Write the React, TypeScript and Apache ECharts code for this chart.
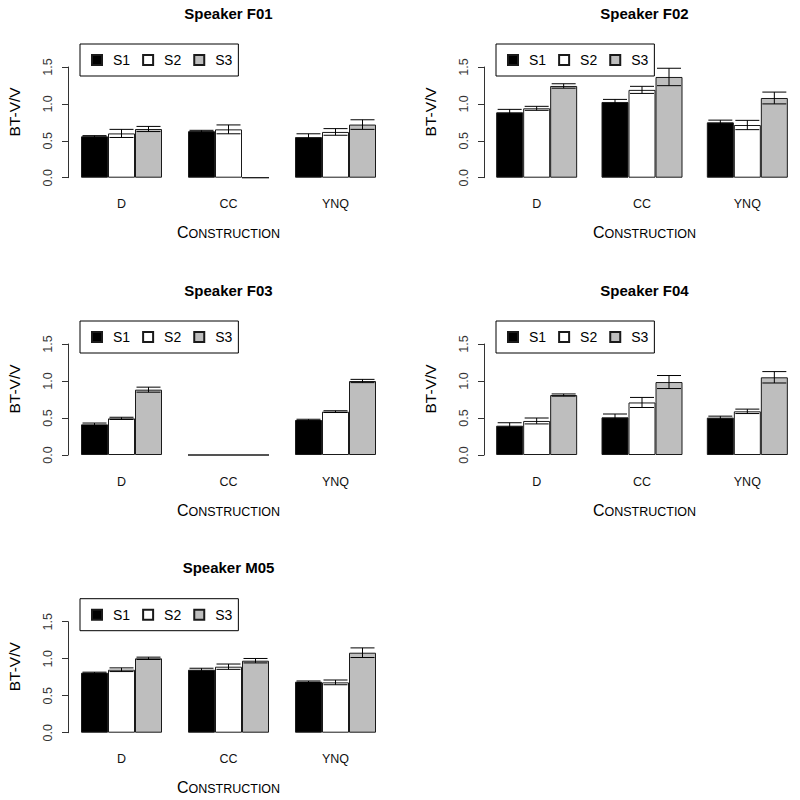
import React, { useEffect, useRef } from "react";
import * as echarts from "echarts";

// ---- data ----
const speakers = ["F01", "F02", "F03", "F04", "M05"];
const constructions = ["D", "CC", "YNQ"];
const sessions = ["S1", "S2", "S3"];
const yTicks = [0, 0.5, 1.0, 1.5];

// rows: S1, S2, S3 ; columns: D, CC, YNQ
const f01Mean = [[0.56, 0.63, 0.55], [0.6, 0.655, 0.62], [0.66, 0, 0.72]];
const f01Se = [[0.01, 0.012, 0.045], [0.055, 0.06, 0.045], [0.035, 0, 0.065]];
const f02Mean = [[0.886, 1.026, 0.75], [0.94, 1.19, 0.714], [1.243, 1.365, 1.08]];
const f02Se = [[0.04, 0.035, 0.03], [0.027, 0.048, 0.063], [0.03, 0.118, 0.08]];
const f03Mean = [[0.414, 0, 0.473], [0.495, 0, 0.586], [0.883, 0, 1.0]];
const f03Se = [[0.018, 0, 0.01], [0.015, 0, 0.012], [0.034, 0, 0.022]];
const f04Mean = [[0.396, 0.509, 0.505], [0.46, 0.71, 0.59], [0.81, 0.986, 1.05]];
const f04Se = [[0.04, 0.045, 0.02], [0.04, 0.068, 0.03], [0.015, 0.088, 0.077]];
const m05Mean = [[0.81, 0.851, 0.689], [0.851, 0.892, 0.68], [1.005, 0.973, 1.081]];
const m05Se = [[0.008, 0.02, 0.01], [0.025, 0.036, 0.032], [0.016, 0.03, 0.065]];

const means = [f01Mean, f02Mean, f03Mean, f04Mean, m05Mean];
const ses = [f01Se, f02Se, f03Se, f04Se, m05Se];

// ---- layout / style ----
const FONT = "Liberation Sans, Arial, Helvetica, sans-serif";
const sessionColors = ["#000000", "#ffffff", "#bebebe"];
const BAR_W = 27;
const CAP_HALF = 12;
const GRID_W = 321;
const panels = [
  { x: 68, top: 67, bottom: 177.7 },
  { x: 484, top: 67, bottom: 177.7 },
  { x: 68, top: 344, bottom: 455 },
  { x: 484, top: 344, bottom: 455 },
  { x: 68, top: 621.7, bottom: 732.7 },
];

function buildOption() {
  const grid = panels.map((p) => ({
    left: p.x,
    top: p.top,
    width: GRID_W,
    height: p.bottom - p.top,
  }));
  const xAxis = panels.map((p, i) => ({
    type: "category",
    gridIndex: i,
    data: constructions,
    axisLine: { show: false },
    axisTick: { show: false },
    axisLabel: { fontSize: 12.5, color: "#111", margin: 20, fontFamily: FONT },
  }));
  const yAxis = panels.map((p, i) => ({
    type: "value",
    gridIndex: i,
    min: yTicks[0],
    max: yTicks[yTicks.length - 1],
    interval: 0.5,
    splitLine: { show: false },
    axisLine: { show: true, lineStyle: { color: "#333", width: 1 } },
    axisTick: { show: true, length: 6, lineStyle: { color: "#333", width: 1 } },
    axisLabel: {
      rotate: 90,
      fontSize: 12.5,
      margin: 14,
      color: "#333",
      fontFamily: FONT,
      formatter: (v: number) => v.toFixed(1),
    },
  }));

  const series: any[] = [];
  panels.forEach((p, i) => {
    sessions.forEach((s, si) => {
      series.push({
        type: "bar",
        name: s,
        xAxisIndex: i,
        yAxisIndex: i,
        data: means[i][si],
        barWidth: BAR_W,
        barGap: "0%",
        silent: true,
        itemStyle: {
          color: sessionColors[si],
          borderColor: "#1a1a1a",
          borderWidth: 1,
        },
      });
    });
    const errData: number[][] = [];
    sessions.forEach((s, si) => {
      constructions.forEach((c, ci) => {
        const m = means[i][si][ci];
        const e = ses[i][si][ci];
        if (e > 0) errData.push([ci, si, m - e, m + e]);
      });
    });
    series.push({
      type: "custom",
      name: "err" + i,
      xAxisIndex: i,
      yAxisIndex: i,
      clip: false,
      silent: true,
      z: 5,
      encode: { x: 0, y: [2, 3] },
      data: errData,
      renderItem: (params: any, api: any) => {
        const ci = api.value(0);
        const si = api.value(1);
        const lo = api.coord([ci, api.value(2)]);
        const hi = api.coord([ci, api.value(3)]);
        const x = lo[0] + (si - 1) * BAR_W;
        const st = { stroke: "#000", lineWidth: 1 };
        return {
          type: "group",
          children: [
            { type: "line", shape: { x1: x, y1: lo[1], x2: x, y2: hi[1] }, style: st },
            { type: "line", shape: { x1: x - CAP_HALF, y1: lo[1], x2: x + CAP_HALF, y2: lo[1] }, style: st },
            { type: "line", shape: { x1: x - CAP_HALF, y1: hi[1], x2: x + CAP_HALF, y2: hi[1] }, style: st },
          ],
        };
      },
    });
  });

  const legend = panels.map((p) => ({
    left: p.x + 12,
    top: p.top - 23,
    orient: "horizontal",
    data: sessions.map((s) => ({ name: s, icon: "rect" })),
    itemWidth: 10,
    itemHeight: 10,
    itemGap: 12,
    padding: [9, 6, 9, 11],
    borderColor: "#000",
    borderWidth: 1,
    selectedMode: false,
    textStyle: { fontSize: 14, color: "#000", fontFamily: FONT, padding: [0, 0, 0, 6] },
  }));

  const graphic: any[] = [];
  panels.forEach((p, i) => {
    const cx = p.x + GRID_W / 2;
    graphic.push({
      type: "text",
      x: cx,
      y: p.top - 54,
      style: {
        text: "Speaker " + speakers[i],
        font: "bold 15px " + FONT,
        fill: "#000",
        align: "center",
        verticalAlign: "middle",
      },
    });
    graphic.push({
      type: "text",
      x: p.x - 54,
      y: (p.top + p.bottom) / 2 - 10.5,
      rotation: Math.PI / 2,
      style: {
        text: "BT-V/V",
        font: "15.5px " + FONT,
        fill: "#000",
        align: "center",
        verticalAlign: "middle",
      },
    });
    graphic.push({
      type: "text",
      x: cx,
      y: p.bottom + 55,
      style: {
        text: "{a|C}{b|ONSTRUCTION}",
        align: "center",
        verticalAlign: "middle",
        fill: "#000",
        rich: {
          a: { fontSize: 16, fontFamily: FONT, lineHeight: 16, verticalAlign: "bottom", fill: "#000" },
          b: { fontSize: 12.5, fontFamily: FONT, lineHeight: 14, verticalAlign: "bottom", fill: "#000" },
        },
      },
    });
  });

  return {
    animation: false,
    backgroundColor: "#ffffff",
    grid,
    xAxis,
    yAxis,
    legend,
    series,
    graphic,
  };
}

export default function App() {
  const ref = useRef<HTMLDivElement>(null);
  useEffect(() => {
    if (!ref.current) return;
    const chart = echarts.init(ref.current, undefined, { renderer: "svg" });
    chart.setOption(buildOption() as any);
    return () => chart.dispose();
  }, []);
  return (
    <div
      ref={ref}
      style={{ position: "fixed", left: 0, top: 0, width: 800, height: 800, background: "#fff" }}
    />
  );
}
